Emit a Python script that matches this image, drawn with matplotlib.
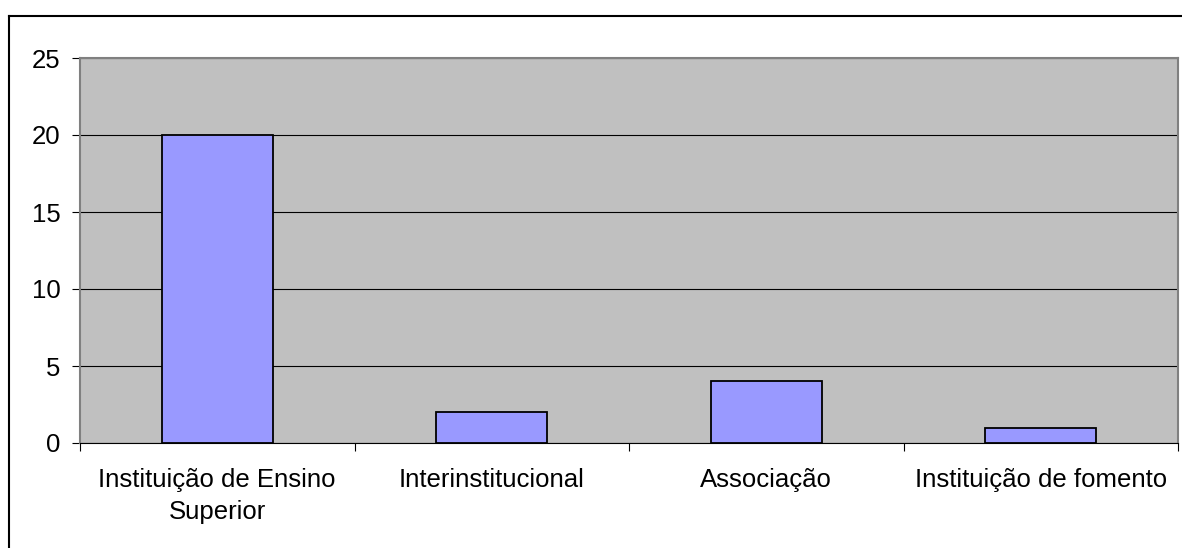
import numpy as np
import matplotlib.pyplot as plt
from matplotlib.lines import Line2D

# Dados
categorias = ["Instituição de Ensino\nSuperior", "Interinstitucional",
              "Associação", "Instituição de fomento"]
valores = [20, 2, 4, 1]

plt.rcParams['font.family'] = ['Liberation Sans', 'DejaVu Sans']

fig = plt.figure(figsize=(11.82, 5.48), dpi=100)
ax = fig.add_axes([80/1182, 105/548, 1098/1182, 385/548])

x = np.arange(len(categorias))
ax.set_axisbelow(True)
ax.set_facecolor('#C0C0C0')
ax.bar(x, valores, width=0.405, color='#9999FF', edgecolor='black', linewidth=1.3, zorder=3)

ax.set_xlim(-0.5, len(categorias) - 0.5)
ax.set_ylim(0, 25)
ax.set_yticks(range(0, 26, 5))
ax.yaxis.grid(True, color='black', linewidth=0.8)

# rótulos no centro, tracinhos entre categorias
ax.set_xticks(x)
ax.set_xticklabels(categorias, fontsize=18.5, linespacing=1.4)
ax.set_xticks(np.arange(-0.5, len(categorias)), minor=True)
ax.tick_params(axis='x', which='major', length=0, pad=18)
ax.tick_params(axis='x', which='minor', length=6, width=0.8, color='black')
ax.tick_params(axis='y', length=6, width=0.8, labelsize=18.5, pad=8)

for lado in ['top', 'right', 'left']:
    ax.spines[lado].set_color('#808080')
    ax.spines[lado].set_linewidth(1.5)
ax.spines['bottom'].set_color('black')
ax.spines['bottom'].set_linewidth(0.8)

# moldura externa
fig.add_artist(Line2D([9/1182, 9/1182], [0, 1 - 16/548], color='black', linewidth=1.5))
fig.add_artist(Line2D([9/1182, 1], [1 - 16/548, 1 - 16/548], color='black', linewidth=1.5))

fig.savefig("out.png", dpi=100)
